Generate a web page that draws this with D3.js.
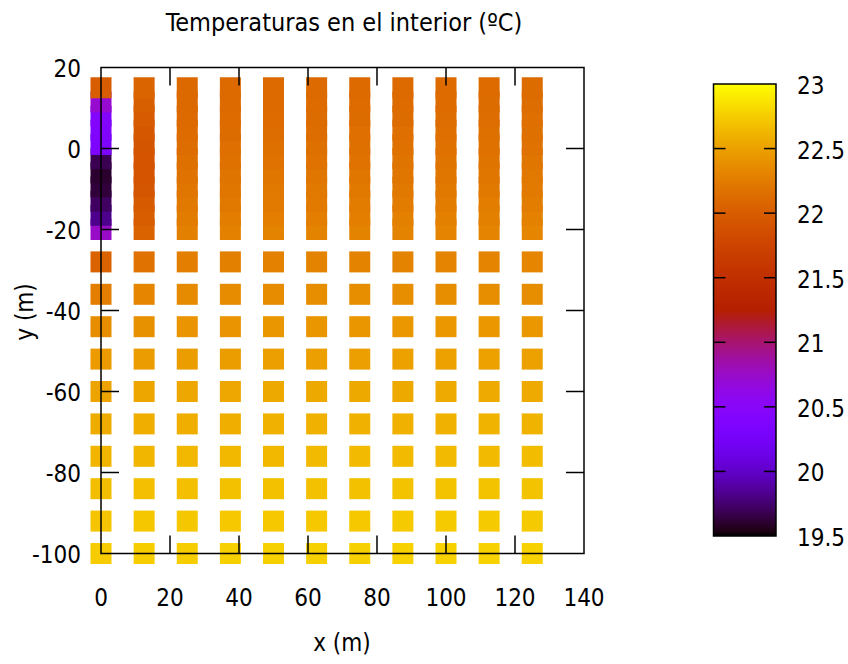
<!DOCTYPE html>
<html>
<head>
<meta charset="utf-8">
<script src="https://cdn.jsdelivr.net/npm/d3@7"></script>
<style>
  html, body { margin: 0; padding: 0; background: #fff; }
  svg text { font-family: "DejaVu Sans Condensed", "DejaVu Sans", sans-serif; font-stretch: condensed; fill: #000; }
</style>
</head>
<body>
<svg id="chart" width="848" height="664"></svg>
<script>
// ---------------- data ----------------
const xPositions = [0, 12.5, 25, 37.5, 50, 62.5, 75, 87.5, 100, 112.5, 125];
const yTopRows = [15, 11.5, 8, 4.5, 1, -2.5, -6, -9.5, -13, -16.5, -20];
const yBottomRows = [-28, -36, -44, -52, -60, -68, -76, -84, -92, -100];

// temperatures (ºC), one row per y value, one entry per x position
const tempTop = [
  [22.00, 22.06, 22.10, 22.11, 22.11, 22.11, 22.11, 22.11, 22.12, 22.12, 22.13],
  [20.72, 22.02, 22.10, 22.11, 22.11, 22.12, 22.12, 22.12, 22.12, 22.13, 22.14],
  [20.42, 21.98, 22.11, 22.12, 22.12, 22.13, 22.13, 22.13, 22.14, 22.14, 22.15],
  [20.38, 21.95, 22.12, 22.13, 22.14, 22.14, 22.15, 22.15, 22.15, 22.16, 22.16],
  [20.34, 21.93, 22.14, 22.15, 22.16, 22.16, 22.16, 22.17, 22.17, 22.17, 22.18],
  [19.68, 21.92, 22.16, 22.17, 22.18, 22.18, 22.18, 22.19, 22.19, 22.19, 22.20],
  [19.60, 21.92, 22.18, 22.19, 22.20, 22.20, 22.20, 22.21, 22.21, 22.21, 22.22],
  [19.63, 21.94, 22.20, 22.21, 22.22, 22.22, 22.22, 22.23, 22.23, 22.23, 22.24],
  [19.72, 21.97, 22.22, 22.23, 22.24, 22.24, 22.25, 22.25, 22.25, 22.26, 22.26],
  [19.82, 22.00, 22.25, 22.26, 22.27, 22.27, 22.27, 22.28, 22.28, 22.28, 22.29],
  [20.75, 22.05, 22.28, 22.29, 22.30, 22.30, 22.30, 22.30, 22.31, 22.31, 22.32]
];
const tempBottom = [
  [22.05, 22.18, 22.27, 22.28, 22.29, 22.30, 22.30, 22.30, 22.31, 22.31, 22.32],
  [22.27, 22.32, 22.35, 22.36, 22.36, 22.37, 22.37, 22.37, 22.38, 22.38, 22.38],
  [22.38, 22.40, 22.42, 22.42, 22.43, 22.43, 22.43, 22.44, 22.44, 22.44, 22.44],
  [22.46, 22.47, 22.48, 22.48, 22.49, 22.49, 22.49, 22.50, 22.50, 22.50, 22.50],
  [22.52, 22.53, 22.54, 22.54, 22.55, 22.55, 22.55, 22.55, 22.56, 22.56, 22.56],
  [22.57, 22.58, 22.59, 22.59, 22.60, 22.60, 22.60, 22.60, 22.60, 22.61, 22.61],
  [22.62, 22.63, 22.64, 22.64, 22.64, 22.65, 22.65, 22.65, 22.65, 22.65, 22.66],
  [22.67, 22.68, 22.68, 22.69, 22.69, 22.69, 22.69, 22.70, 22.70, 22.70, 22.70],
  [22.71, 22.72, 22.72, 22.73, 22.73, 22.73, 22.73, 22.74, 22.74, 22.74, 22.74],
  [22.75, 22.76, 22.76, 22.77, 22.77, 22.77, 22.77, 22.78, 22.78, 22.78, 22.78]
];

const xTicks = [0, 20, 40, 60, 80, 100, 120, 140];
const yTicks = [20, 0, -20, -40, -60, -80, -100];
const cbTicks = [19.5, 20, 20.5, 21, 21.5, 22, 22.5, 23];
const cbRange = [19.5, 23];

const titleText = "Temperaturas en el interior (ºC)";
const xLabel = "x (m)";
const yLabel = "y (m)";

// ---------------- layout ----------------
const plot = { left: 101, right: 584, top: 67.5, bottom: 553.5 };
const cb = { left: 713.5, right: 776, top: 84, bottom: 536 };
const cell = 21;
const fontSize = 24;

const svg = d3.select("#chart");

const x = d3.scaleLinear().domain([0, 140]).range([plot.left, plot.right]);
const y = d3.scaleLinear().domain([-100, 20]).range([plot.bottom, plot.top]);

// gnuplot default palette (rgbformulae 7,5,15)
function palette(t) {
  t = Math.max(0, Math.min(1, t));
  const r = Math.sqrt(t);
  const g = t * t * t;
  const b = Math.max(0, Math.sin(2 * Math.PI * t));
  return d3.rgb(r * 255, g * 255, b * 255).formatHex();
}
const tScale = d3.scaleLinear().domain(cbRange).range([0, 1]).clamp(true);
const color = v => palette(tScale(v));

// build point list (ascending y drawing order, like gnuplot data file)
const points = [];
yBottomRows.forEach((yy, i) => xPositions.forEach((xx, j) => points.push({ x: xx, y: yy, v: tempBottom[i][j] })));
yTopRows.forEach((yy, i) => xPositions.forEach((xx, j) => points.push({ x: xx, y: yy, v: tempTop[i][j] })));
points.sort((a, b) => a.y - b.y);

svg.append("g").selectAll("rect").data(points).join("rect")
  .attr("x", d => x(d.x) - cell / 2)
  .attr("y", d => y(d.y) - cell / 2)
  .attr("width", cell)
  .attr("height", cell)
  .attr("fill", d => color(d.v));

// frame and ticks
const axisG = svg.append("g").attr("stroke", "#000").attr("stroke-width", 1.5).attr("fill", "none");
axisG.append("rect")
  .attr("x", plot.left).attr("y", plot.top)
  .attr("width", plot.right - plot.left).attr("height", plot.bottom - plot.top);
const tl = 18;
xTicks.forEach(t => {
  if (t === 0 || t === 140) return;
  axisG.append("line").attr("x1", x(t)).attr("x2", x(t)).attr("y1", plot.bottom).attr("y2", plot.bottom - tl);
  axisG.append("line").attr("x1", x(t)).attr("x2", x(t)).attr("y1", plot.top).attr("y2", plot.top + tl);
});
yTicks.forEach(t => {
  if (t === 20 || t === -100) return;
  axisG.append("line").attr("y1", y(t)).attr("y2", y(t)).attr("x1", plot.left).attr("x2", plot.left + tl);
  axisG.append("line").attr("y1", y(t)).attr("y2", y(t)).attr("x1", plot.right).attr("x2", plot.right - tl);
});

// tick labels
svg.append("g").selectAll("text").data(xTicks).join("text")
  .attr("x", d => x(d)).attr("y", 606)
  .attr("text-anchor", "middle")
  .attr("font-size", fontSize)
  .text(d => d);
svg.append("g").selectAll("text").data(yTicks).join("text")
  .attr("x", 81).attr("y", d => y(d) + 9)
  .attr("text-anchor", "end")
  .attr("font-size", fontSize)
  .text(d => d);

// titles
svg.append("text").attr("x", 344).attr("y", 31).attr("text-anchor", "middle")
  .attr("font-size", 25).text(titleText);
svg.append("text").attr("x", 342).attr("y", 651).attr("text-anchor", "middle")
  .attr("font-size", fontSize).text(xLabel);
svg.append("text").attr("transform", "translate(33,312) rotate(-90)").attr("text-anchor", "middle")
  .attr("font-size", fontSize).text(yLabel);

// colorbar
const defs = svg.append("defs");
const grad = defs.append("linearGradient").attr("id", "cbgrad")
  .attr("x1", 0).attr("y1", 1).attr("x2", 0).attr("y2", 0);
d3.range(0, 1.0001, 0.01).forEach(t => {
  grad.append("stop").attr("offset", t).attr("stop-color", palette(t));
});
const cbY = d3.scaleLinear().domain(cbRange).range([cb.bottom, cb.top]);
svg.append("rect").attr("x", cb.left).attr("y", cb.top)
  .attr("width", cb.right - cb.left).attr("height", cb.bottom - cb.top)
  .attr("fill", "url(#cbgrad)");
const cbG = svg.append("g").attr("stroke", "#000").attr("stroke-width", 1.5).attr("fill", "none");
cbG.append("rect").attr("x", cb.left).attr("y", cb.top)
  .attr("width", cb.right - cb.left).attr("height", cb.bottom - cb.top);
cbTicks.forEach(t => {
  if (t === cbRange[0] || t === cbRange[1]) return;
  cbG.append("line").attr("x1", cb.left).attr("x2", cb.left + 12).attr("y1", cbY(t)).attr("y2", cbY(t));
  cbG.append("line").attr("x1", cb.right).attr("x2", cb.right - 12).attr("y1", cbY(t)).attr("y2", cbY(t));
});
svg.append("g").selectAll("text").data(cbTicks).join("text")
  .attr("x", 797).attr("y", d => cbY(d) + 10)
  .attr("text-anchor", "start")
  .attr("font-size", fontSize)
  .text(d => d);
</script>
</body>
</html>
